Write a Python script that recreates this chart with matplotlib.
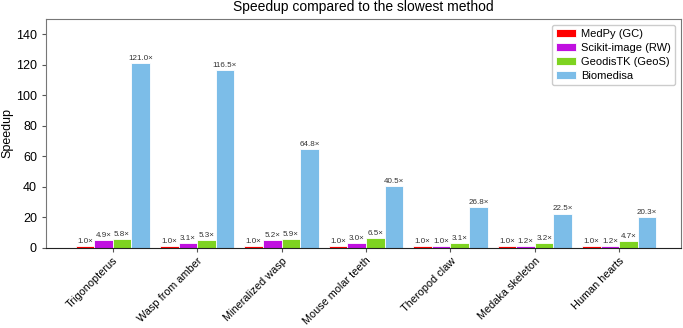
import numpy as np
import matplotlib
matplotlib.use('Agg')
import matplotlib.pyplot as plt

plt.rcParams['font.family'] = ['Liberation Sans', 'DejaVu Sans']

datasets = ['Trigonopterus', 'Wasp from amber', 'Mineralized wasp', 'Mouse molar teeth',
            'Theropod claw', 'Medaka skeleton', 'Human hearts']
methods = ['MedPy (GC)', 'Scikit-image (RW)', 'GeodisTK (GeoS)', 'Biomedisa']
medpy = [1.0, 1.0, 1.0, 1.0, 1.0, 1.0, 1.0]
skimage = [4.9, 3.1, 5.2, 3.0, 1.0, 1.2, 1.2]
geodis = [5.8, 5.3, 5.9, 6.5, 3.1, 3.2, 4.7]
biomedisa = [121.0, 116.5, 64.8, 40.5, 26.8, 22.5, 20.3]
colors = ['#ff0000', '#c010e0', '#7ed321', '#7cbde8']

fig = plt.figure(figsize=(6.83, 3.28), dpi=100)
ax = fig.add_axes([0.0673, 0.244, 0.9297, 0.698])

x = np.arange(len(datasets))
w = 0.22
series = [medpy, skimage, geodis, biomedisa]
for i, (vals, name, c) in enumerate(zip(series, methods, colors)):
    bars = ax.bar(x + (i - 2) * w, vals, w, align='edge', color=c, edgecolor='white',
                  linewidth=0.6, label=name)
    for b, v in zip(bars, vals):
        ax.text(b.get_x() + b.get_width() / 2, v + 0.8, '%.1f\u00d7' % v,
                ha='center', va='bottom', fontsize=5.8, color='#333333')

ax.set_xlim(-0.79, 6.73)
ax.set_ylim(0, 150)
ax.set_yticks(range(0, 141, 20))
ax.set_xticks(x)
ax.set_xticklabels(datasets, rotation=45, ha='right', va='top', rotation_mode='anchor',
                   fontsize=7.8)
ax.tick_params(axis='y', labelsize=9, length=3, color='#555555')
ax.tick_params(axis='x', length=3, color='#555555', pad=2.5)
for s in ['left', 'top', 'right']:
    ax.spines[s].set_color('#777777')
ax.spines['bottom'].set_color('#222222')
ax.set_ylabel('Speedup', fontsize=9, labelpad=2)
ax.set_title('Speedup compared to the slowest method', fontsize=10, pad=6)
ax.legend(loc='upper right', fontsize=8, handlelength=1.8, handletextpad=0.45,
          borderpad=0.4, labelspacing=0.35, fancybox=True, framealpha=1,
          edgecolor='#cccccc')

fig.savefig('out.png', dpi=100)
